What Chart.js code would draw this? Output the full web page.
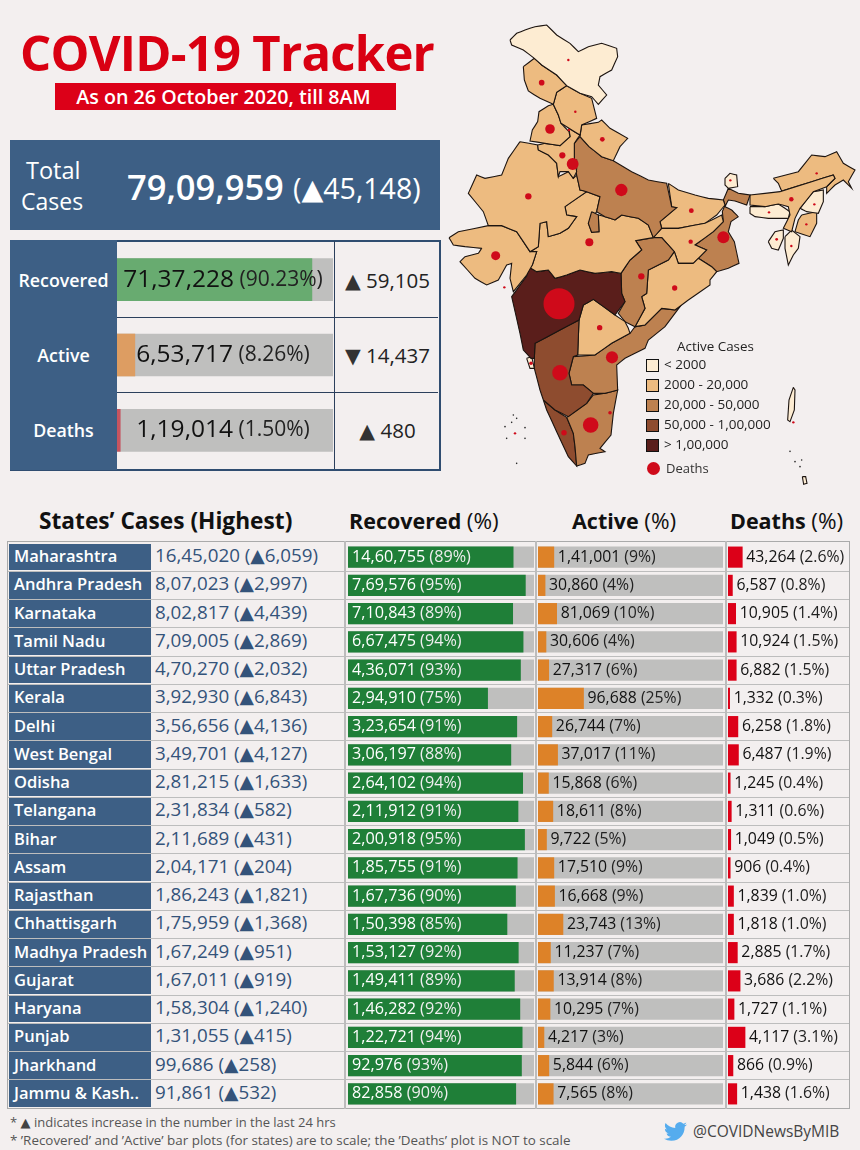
<!DOCTYPE html>
<html><head><meta charset="utf-8">
<script src="https://cdn.jsdelivr.net/npm/chart.js@4"></script>
<style>
html,body{margin:0;padding:0;background:#f3efef;}
body{width:860px;height:1150px;position:relative;overflow:hidden;font-family:"Open Sans","DejaVu Sans",sans-serif;}
.a{position:absolute;white-space:nowrap;line-height:1;}
canvas{display:block;}
.cv{position:absolute;}
</style></head><body>
<div class="a" style="left:20px;top:28px;font-size:49px;font-weight:700;color:#d90012;letter-spacing:-.75px" id="title">COVID-19 Tracker</div>
<div class="a" style="left:55px;top:83px;width:341px;height:27px;background:#dc0018;color:#fff;font-size:19.7px;font-weight:600;text-align:center;line-height:27px;text-indent:-4px">As on 26 October 2020, till 8AM</div>

<div class="a" style="left:10px;top:140px;width:430px;height:90px;background:#3d5f85"></div>
<div class="a" style="left:26px;top:159px;color:#fff;font-size:23.5px">Total</div>
<div class="a" style="left:21px;top:190px;color:#fff;font-size:23px">Cases</div>
<div class="a" style="left:127px;top:170px;color:#fff;font-size:34.5px;font-weight:600">79,09,959</div>
<div class="a" style="left:293px;top:174px;color:#fff;font-size:28.5px;font-weight:500">(▲45,148)</div>

<div class="a" style="left:10px;top:240px;width:427px;height:227px;border:2px solid #2f4d70"></div>
<div class="a" style="left:10px;top:240px;width:107px;height:230px;background:#3d5f85"></div>
<div class="a" style="left:117px;top:317px;width:321px;height:1px;background:#2b3f5c"></div>
<div class="a" style="left:117px;top:392px;width:321px;height:1px;background:#2b3f5c"></div>
<div class="a" style="left:334px;top:241px;width:1px;height:228px;background:#2b3f5c"></div>
<div id="sumLabels"></div>
<div class="cv" style="left:117px;top:242px;width:216px;height:226px"><canvas id="summary"></canvas></div>

<div class="cv" style="left:445px;top:15px;width:415px;height:475px"><canvas id="map"></canvas></div>
<div id="legend"></div>

<div class="a" style="left:39px;top:510px;font-size:22.7px;font-weight:700;color:#111">States’ Cases (Highest)</div>
<div class="a" style="left:349px;top:510px;font-size:21.5px;font-weight:700;color:#111">Recovered <span style="font-weight:500;font-size:22.5px">(%)</span></div>
<div class="a" style="left:572px;top:510px;font-size:21.5px;font-weight:700;color:#111">Active <span style="font-weight:500;font-size:22.5px">(%)</span></div>
<div class="a" style="left:730px;top:510px;font-size:21.5px;font-weight:700;color:#111">Deaths <span style="font-weight:500;font-size:22.5px">(%)</span></div>

<div id="table"></div>
<div class="cv" style="left:348px;top:543px;width:186px;height:565px"><canvas id="recChart"></canvas></div>
<div class="cv" style="left:538px;top:543px;width:185px;height:565px"><canvas id="actChart"></canvas></div>
<div class="cv" style="left:728px;top:543px;width:121px;height:565px"><canvas id="dthChart"></canvas></div>

<div class="a" style="left:10px;top:1116px;font-size:13px;color:#555">* <span style="color:#444">▲</span> indicates increase in the number in the last 24 hrs</div>
<div class="a" style="left:10px;top:1134px;font-size:13.4px;color:#555">* ’Recovered’ and ’Active’ bar plots (for states) are to scale; the ’Deaths’ plot is NOT to scale</div>
<svg class="a" style="left:663px;top:1120px" width="25" height="23" viewBox="0 0 24 24"><path fill="#55acee" d="M23.953 4.57a10 10 0 01-2.825.775 4.958 4.958 0 002.163-2.723c-.951.555-2.005.959-3.127 1.184a4.92 4.92 0 00-8.384 4.482C7.69 8.095 4.067 6.13 1.64 3.162a4.822 4.822 0 00-.666 2.475c0 1.71.87 3.213 2.188 4.096a4.904 4.904 0 01-2.228-.616v.06a4.923 4.923 0 003.946 4.827 4.996 4.996 0 01-2.212.085 4.936 4.936 0 004.604 3.417 9.867 9.867 0 01-6.102 2.105c-.39 0-.779-.023-1.17-.067a13.995 13.995 0 007.557 2.209c9.053 0 13.998-7.496 13.998-13.985 0-.21 0-.42-.015-.63A9.935 9.935 0 0024 4.59z"/></svg>
<div class="a" style="left:693px;top:1124px;font-size:15.5px;color:#444">@COVIDNewsByMIB</div>

<script>
// ---------- summary data ----------
const summaryLabels = ['Recovered','Active','Deaths'];
const summaryValues = [7137228,653717,119014];
const summaryShare  = [90.23,8.26,1.50];
const summaryChange = [59105,14437,480];
const summaryDir    = ['▲','▼','▲'];
// ---------- state table data ----------
const states = ['Maharashtra','Andhra Pradesh','Karnataka','Tamil Nadu','Uttar Pradesh','Kerala','Delhi','West Bengal','Odisha','Telangana','Bihar','Assam','Rajasthan','Chhattisgarh','Madhya Pradesh','Gujarat','Haryana','Punjab','Jharkhand','Jammu & Kash..'];
const totalCases = [1645020,807023,802817,709005,470270,392930,356656,349701,281215,231834,211689,204171,186243,175959,167249,167011,158304,131055,99686,91861];
const totalDelta = [6059,2997,4439,2869,2032,6843,4136,4127,1633,582,431,204,1821,1368,951,919,1240,415,258,532];
const recovered  = [1460755,769576,710843,667475,436071,294910,323654,306197,264102,211912,200918,185755,167736,150398,153127,149411,146282,122721,92976,82858];
const recoveredPct = [89,95,89,94,93,75,91,88,94,91,95,91,90,85,92,89,92,94,93,90];
const active     = [141001,30860,81069,30606,27317,96688,26744,37017,15868,18611,9722,17510,16668,23743,11237,13914,10295,4217,5844,7565];
const activePct  = [9,4,10,4,6,25,7,11,6,8,5,9,9,13,7,8,7,3,6,8];
const deaths     = [43264,6587,10905,10924,6882,1332,6258,6487,1245,1311,1049,906,1839,1818,2885,3686,1727,4117,866,1438];
const deathsPct  = [2.6,0.8,1.4,1.5,1.5,0.3,1.8,1.9,0.4,0.6,0.5,0.4,1.0,1.0,1.7,2.2,1.1,3.1,0.9,1.6];
// ---------- map: active bins ----------
const binLimits = [2000,20000,50000,100000];
const binColors = ['#fdecd2','#edbb80','#bd8150','#8e4c2f','#5a1e1b'];
const binLabels = ['< 2000','2000 - 20,000','20,000 - 50,000','50,000 - 1,00,000','> 1,00,000'];
// ---------- map: outlines in map units ----------
const ladakh=[195,75,215,55,240,45,270,35,305,30,335,60,375,85,400,110,430,95,470,85,515,100,518,125,500,165,465,185,460,210,485,240,460,268,440,245,405,235,365,212,335,180,290,150,268,130,235,105,200,90];
const jammuKashmir=[235,155,268,130,290,150,335,180,365,212,335,232,325,268,285,250,250,228,238,195];
const himachal=[335,232,365,212,405,235,440,250,455,310,410,330,405,360,372,340,348,325,340,300,325,268];
const punjab=[325,268,340,300,348,325,372,350,375,365,345,392,300,385,255,378,262,345,278,320,282,290,310,272];
const uttarakhand=[410,330,460,322,470,315,495,340,548,370,525,395,505,437,470,425,432,395,405,365];
const haryana=[278,390,300,385,345,392,375,365,372,340,405,360,388,385,388,430,395,470,385,490,370,470,345,470,340,485,335,445,310,420,280,405];
const delhi=[372,435,395,435,395,462,372,462];
const uttarPradesh=[405,365,432,395,470,425,505,437,560,470,610,495,665,505,680,575,695,578,645,620,650,640,625,668,610,630,580,610,530,600,510,615,480,605,455,590,465,545,425,530,405,525,395,480,388,430,388,385];
const upSouth=[440,590,460,600,462,650,440,652,430,625];
const rajasthan=[225,380,278,390,280,405,310,420,335,445,340,485,370,470,385,490,395,480,405,525,425,530,360,575,365,600,395,605,370,640,345,655,310,665,305,620,285,625,280,695,255,710,215,650,170,632,130,632,115,590,70,535,95,480,120,490,170,480,190,430];
const gujarat=[12,668,40,650,130,632,170,632,215,650,255,710,275,710,262,750,245,780,205,830,195,790,200,745,185,750,160,795,125,810,90,790,45,740,60,725,100,715,110,700,60,695,25,690];
const madhyaPradesh=[425,530,465,545,455,590,430,625,440,652,462,650,460,600,480,605,510,615,530,600,580,610,610,630,625,668,572,677,590,705,555,735,528,775,500,770,450,775,405,765,365,780,330,790,310,765,275,770,250,755,262,750,275,710,255,710,280,695,285,625,305,620,310,665,345,655,370,640,395,605,365,600,360,575];
const maharashtra=[250,755,275,770,310,765,330,790,365,780,405,765,450,775,500,770,528,775,530,835,540,860,510,900,445,853,415,870,402,915,345,945,270,985,268,1030,258,1030,235,1005,225,955,200,845,245,783];
const goa=[245,1030,260,1025,268,1060,255,1060];
const karnataka=[268,1030,270,985,345,945,402,915,398,1020,385,1025,372,1075,380,1110,415,1110,445,1135,425,1165,370,1205,330,1185,295,1155,285,1125,268,1060];
const telangana=[415,870,445,853,510,900,540,920,550,940,555,955,500,985,450,1020,398,1020,402,915];
const chhattisgarh=[572,677,625,668,650,668,670,690,688,710,670,735,610,765,605,835,590,845,600,880,570,935,540,920,520,895,540,860,530,835,528,775,555,735,590,705];
const odisha=[670,735,688,710,700,745,745,745,760,730,800,755,815,770,795,795,795,810,730,855,690,885,650,880,600,930,570,935,600,880,590,845,605,835,610,765];
const jharkhand=[650,640,700,640,780,625,830,600,835,620,805,650,750,690,785,705,760,730,745,745,700,745,688,710,650,668,625,668];
const bihar=[670,505,700,525,750,540,790,550,835,555,840,570,815,600,780,625,700,640,650,640,645,620,695,578,680,575];
const westBengal=[850,520,880,535,915,540,905,570,870,558,850,555,840,575,860,585,880,605,858,620,850,650,868,680,882,745,850,760,815,770,800,755,760,730,785,705,750,690,805,650,835,620,832,590,840,570,835,555];
const sikkim=[840,490,855,475,875,480,878,515,850,520,840,510];
const assam=[915,540,1005,530,1100,500,1165,480,1170,490,1145,515,1105,530,1065,580,1050,610,1040,650,1015,640,1035,600,1030,575,1000,567,960,575,915,570];
const meghalaya=[915,575,960,575,1000,567,1035,590,1030,610,970,610,930,605,915,595];
const arunachal=[985,490,1060,470,1100,420,1140,425,1175,410,1195,445,1230,465,1210,500,1220,520,1195,495,1170,510,1145,535,1145,515,1170,490,1165,480,1100,500,1010,528,1000,505];
const nagaland=[1105,530,1135,525,1135,560,1120,595,1085,590,1065,580];
const manipur=[1070,600,1115,590,1115,625,1095,665,1050,650,1060,615];
const tripura=[970,680,990,650,1015,645,1015,670,1000,705,980,700];
const mizoram=[1020,665,1040,645,1065,665,1060,700,1045,720,1030,750,1020,700];
const andhraPradesh=[555,955,570,935,600,930,650,880,690,885,705,875,660,935,610,975,600,1000,540,1030,515,1050,518,1125,480,1135,445,1135,415,1110,380,1110,372,1075,385,1025,450,1020,500,985];
const tamilNadu=[365,1207,425,1165,445,1140,480,1135,518,1125,505,1195,498,1260,465,1300,480,1310,430,1320,420,1345,395,1353,390,1295,385,1255];
const kerala=[295,1155,330,1185,365,1207,385,1255,390,1295,395,1353,370,1325,335,1250,305,1185];
const andaman=[1045,1117,1050,1125,1048,1185,1035,1220,1028,1215,1032,1155];
const nicobar=[1072,1385,1082,1385,1086,1405,1076,1408];
const mapShapes=[ladakh,jammuKashmir,himachal,punjab,uttarakhand,haryana,delhi,uttarPradesh,upSouth,rajasthan,gujarat,madhyaPradesh,maharashtra,goa,karnataka,telangana,chhattisgarh,odisha,jharkhand,bihar,westBengal,sikkim,assam,meghalaya,arunachal,nagaland,manipur,tripura,mizoram,andhraPradesh,tamilNadu,kerala,andaman,nicobar];
const mapActive=[800,7565,3500,4217,5000,10295,26744,27317,27317,16668,13914,11237,141001,1900,81069,18611,23743,15868,5844,9722,37017,500,17510,1800,3000,1500,2500,1600,600,30860,30606,96688,300,300];
// ---------- map: death bubbles ----------
const bubbleX=[342,501,345,437,529,357,383,835,689,464,739,1039,250,589,433,152,352,315,737,290,472,391,370,258,495,372,1084,995,972,1108,1115,856,178,1045,210,1039];
const bubbleY=[866,1027,1073,1230,525,1253,447,667,819,938,587,553,544,784,682,722,421,342,680,203,373,290,135,1045,1193,345,628,673,592,568,475,496,817,1222,1255,693];
const bubbleDeaths=[43264,6587,10905,10924,6882,1332,6258,6487,1245,1311,1049,906,1839,1818,2885,3686,1727,4117,866,1438,1000,280,60,550,570,300,100,330,70,30,50,40,20,55,20,30];
const islandX=[205,215,180,200,240,185,240,215,1035,1050,1070,1065];
const islandY=[1200,1210,1235,1222,1238,1270,1270,1345,1309,1340,1335,1355];

// ---------- helpers ----------
function inr(n){const s=String(n);if(s.length<=3)return s;let t=s.slice(-3),r=s.slice(0,-3);while(r.length>2){t=r.slice(-2)+','+t;r=r.slice(0,-2);}return r+','+t;}
function el(html){const d=document.createElement('div');d.innerHTML=html;return d.firstChild;}
const FONT='"Open Sans","DejaVu Sans",sans-serif';
Chart.defaults.animation=false;
Chart.defaults.responsive=true;
Chart.defaults.maintainAspectRatio=false;
Chart.defaults.plugins.legend.display=false;
Chart.defaults.plugins.tooltip.enabled=false;

// ---------- summary side HTML ----------
const sumY=[281,356,431];
summaryLabels.forEach((l,i)=>{
  document.getElementById('sumLabels').appendChild(el(`<div class="a" style="left:10px;width:107px;top:${sumY[i]-9}px;text-align:center;color:#fff;font-size:17.8px;font-weight:600">${l}</div>`));
  document.getElementById('sumLabels').appendChild(el(`<div class="a" style="left:335px;width:105px;top:${sumY[i]-11}px;text-align:center;color:#222;font-size:20.5px"><span style="color:#333">${summaryDir[i]}</span> ${inr(summaryChange[i])}</div>`));
});

// ---------- legend HTML ----------
const lg=document.getElementById('legend');
lg.appendChild(el(`<div class="a" style="left:677px;top:340px;font-size:13.4px;color:#222">Active Cases</div>`));
binLabels.forEach((t,i)=>{
  const y=359+i*20;
  lg.appendChild(el(`<div class="a" style="left:646px;top:${y}px;width:11px;height:11px;border:1px solid #111;background:${binColors[i]}"></div>`));
  lg.appendChild(el(`<div class="a" style="left:664px;top:${y-1}px;font-size:13.5px;color:#222">${t.replace('<','&lt;')}</div>`));
});
lg.appendChild(el(`<div class="a" style="left:646.5px;top:461.5px;width:13px;height:13px;border-radius:50%;background:#cf0a1a"></div>`));
lg.appendChild(el(`<div class="a" style="left:666px;top:462px;font-size:13px;color:#333">Deaths</div>`));

// ---------- state table HTML ----------
const tb=document.getElementById('table');
const top0=543,rowH=565/20;
tb.appendChild(el(`<div class="a" style="left:7px;top:541px;width:841px;height:566px;border:1.5px solid #aaa"></div>`));
[344,535,725].forEach(x=>{
  tb.appendChild(el(`<div class="a" style="left:${x}px;top:541px;width:2px;height:568px;background:#bcbcbc"></div>`));
});
states.forEach((s,i)=>{
  const y=top0+i*rowH;
  if(i>0) tb.appendChild(el(`<div class="a" style="left:8px;top:${y-.5}px;width:841px;height:1px;background:#bdbdbd"></div>`));
  tb.appendChild(el(`<div class="a" style="left:9px;top:${y+.5}px;width:142px;height:${rowH-1.5}px;background:#3d5f85"></div>`));
  tb.appendChild(el(`<div class="a" style="left:14px;top:${y+5}px;color:#fff;font-size:16.5px;font-weight:600">${s}</div>`));
  tb.appendChild(el(`<div class="a" style="left:155px;top:${y+3}px;color:#34537a;font-size:18.8px;font-weight:500">${inr(totalCases[i])} (▲${inr(totalDelta[i])})</div>`));
});

// ---------- bar label plugin ----------
function labelPlugin(getSegs,xFn,centered){return {id:'barLabels',afterDatasetsDraw(c){
  const ctx=c.ctx,meta=c.getDatasetMeta(0);
  ctx.save();ctx.textBaseline='middle';ctx.textAlign='left';
  meta.data.forEach((b,i)=>{
    const segs=getSegs(i);
    let w=0;
    segs.forEach(sg=>{ctx.font=`${sg.w} ${sg.s}px ${FONT}`;w+=ctx.measureText(sg.t).width;});
    let x=centered?xFn(b)-w/2:xFn(b);
    segs.forEach(sg=>{ctx.font=`${sg.w} ${sg.s}px ${FONT}`;ctx.fillStyle=sg.c;ctx.fillText(sg.t,x,b.y);x+=ctx.measureText(sg.t).width;});
  });
  ctx.restore();
}};}

function hbar(id,labels,fg,bg,max,thick,plugin){
  const datasets=[{data:fg,backgroundColor:labels.colors||labels.color,barThickness:thick,order:1}];
  if(bg) datasets.push({data:bg,backgroundColor:'#bfbfbe',barThickness:thick,order:2});
  return new Chart(document.getElementById(id),{type:'bar',plugins:[plugin],
    data:{labels:labels.names,datasets},
    options:{indexAxis:'y',layout:{padding:0},
      datasets:{bar:{grouped:false,borderWidth:0}},
      scales:{x:{display:false,min:0,max,grid:{display:false}},y:{display:false,grid:{display:false}}}}});
}

// ---------- summary chart ----------
hbar('summary',{names:summaryLabels,colors:['#68ab70','#dd9d62','#c6545f']},summaryShare,summaryShare.map(()=>100),100,42,
  labelPlugin(i=>[{t:inr(summaryValues[i]),w:400,s:24.5,c:'#111'},{t:' ('+summaryShare[i].toFixed(2)+'%)',w:400,s:21,c:'#222'}],
    b=>106,true));

// ---------- state charts ----------
const full=states.map(()=>1);
hbar('recChart',{names:states,color:'#1f7f38'},recovered.map((v,i)=>v/totalCases[i]),full,1,20.5,
  labelPlugin(i=>[{t:inr(recovered[i]),w:500,s:16.2,c:'#fff'},{t:' ('+recoveredPct[i]+'%)',w:500,s:16.2,c:'#eee'}],b=>4));
hbar('actChart',{names:states,color:'#dd8228'},active.map((v,i)=>v/totalCases[i]),full,1,20.5,
  labelPlugin(i=>[{t:inr(active[i]),w:500,s:15.8,c:'#111'},{t:' ('+activePct[i]+'%)',w:500,s:15.8,c:'#222'}],b=>b.x+4));
hbar('dthChart',{names:states,color:'#dc0018'},deathsPct,null,22,20.5,
  labelPlugin(i=>[{t:inr(deaths[i]),w:500,s:15.8,c:'#111'},{t:' ('+deathsPct[i].toFixed(1)+'%)',w:500,s:15.8,c:'#222'}],b=>b.x+4));

// ---------- map chart ----------
function binColor(v){let k=0;while(k<binLimits.length&&v>=binLimits[k])k++;return binColors[k];}
function pts(a){const o=[];for(let i=0;i<a.length;i+=2)o.push({x:a[i],y:a[i+1]});o.push({x:a[0],y:a[1]});return o;}
const mapDatasets=mapShapes.map((s,i)=>({type:'scatter',data:pts(s),showLine:true,fill:'shape',tension:0.0001,capBezierPoints:false,pointRadius:0,borderColor:'#1c1410',borderWidth:1.1,backgroundColor:binColor(mapActive[i]),order:2}));
const bubbleK=15.5/Math.sqrt(43264);
mapDatasets.push({type:'bubble',data:bubbleX.map((x,i)=>({x,y:bubbleY[i],r:Math.max(1.2,bubbleK*Math.sqrt(bubbleDeaths[i]))})),backgroundColor:'#cf0a1a',borderWidth:0,order:0});
mapDatasets.push({type:'scatter',data:islandX.map((x,i)=>({x,y:islandY[i]})),pointRadius:.8,backgroundColor:'#222',borderWidth:0,order:1});
new Chart(document.getElementById('map'),{type:'scatter',data:{datasets:mapDatasets},
  options:{layout:{padding:0,autoPadding:false},scales:{x:{display:false,min:0,max:1245},y:{display:false,min:0,max:1425,reverse:true}}}});
</script>
</body></html>
